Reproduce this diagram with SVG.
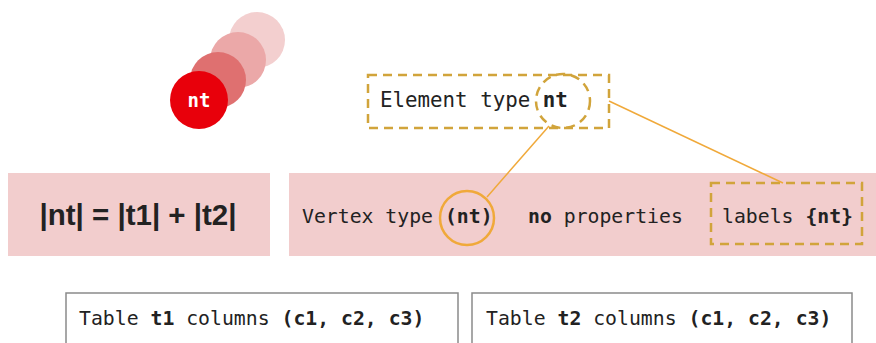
<svg xmlns="http://www.w3.org/2000/svg" width="876" height="343" viewBox="0 0 876 343">
  <style>
    .mono { font-family: "DejaVu Sans Mono", "Liberation Mono", monospace; font-size: 19.8px; fill: #222; }
    .b { font-weight: bold; }
    .band { fill: #f2cdcd; }
    .dash { fill: none; stroke: #d1a43b; stroke-width: 2.5; stroke-dasharray: 9 6; }
    .link { fill: none; stroke: #f0a93a; stroke-width: 1.5; }
    .table { fill: #fff; stroke: #8a8a8a; stroke-width: 1.5; }
  </style>

  <!-- stacked element circles -->
  <g id="element-stack">
    <circle cx="257" cy="40" r="28" fill="#f3cfcf"/>
    <circle cx="238" cy="60" r="28" fill="#eba8a8"/>
    <circle cx="218" cy="80" r="28" fill="#df7070"/>
    <circle cx="199" cy="100" r="29" fill="#e8000b"/>
    <text x="199" y="107" text-anchor="middle" class="mono b" style="fill:#fff;font-size:19px">nt</text>
  </g>

  <!-- bands -->
  <g id="formula">
    <rect class="band" x="8" y="173" width="262" height="83"/>
    <text x="138" y="225" text-anchor="middle" style="font-family:'Liberation Sans',Arial,sans-serif;font-weight:bold;font-size:29.5px;fill:#222">|nt| = |t1| + |t2|</text>
  </g>

  <g id="vertex">
    <rect class="band" x="289" y="173" width="587" height="83"/>
    <text x="302" y="223" class="mono">Vertex type <tspan class="b">(nt)</tspan></text>
    <circle cx="467" cy="218" r="27" fill="none" stroke="#f0a93a" stroke-width="2.5"/>
    <text x="528" y="223" class="mono"><tspan class="b">no</tspan> properties</text>
  </g>

  <g id="labels">
    <rect class="dash" x="711" y="183" width="151" height="61"/>
    <text x="722" y="223" class="mono">labels <tspan class="b">{nt}</tspan></text>
  </g>

  <g id="element-type">
    <rect class="dash" x="368" y="75" width="241" height="53"/>
    <text x="380" y="107" class="mono" style="font-size:20.8px">Element type <tspan class="b">nt</tspan></text>
    <circle class="dash" cx="563" cy="101" r="27"/>
  </g>

  <!-- connectors -->
  <g id="connectors">
    <line class="link" x1="549" y1="126" x2="487" y2="197"/>
    <line class="link" x1="609" y1="101" x2="783" y2="183"/>
  </g>

  <!-- source tables -->
  <g id="table-t1">
    <rect class="table" x="66" y="293" width="392" height="60"/>
    <text x="79" y="325" class="mono">Table <tspan class="b">t1</tspan> columns <tspan class="b">(c1, c2, c3)</tspan></text>
  </g>
  <g id="table-t2">
    <rect class="table" x="472" y="293" width="380" height="60"/>
    <text x="486" y="325" class="mono">Table <tspan class="b">t2</tspan> columns <tspan class="b">(c1, c2, c3)</tspan></text>
  </g>
</svg>
